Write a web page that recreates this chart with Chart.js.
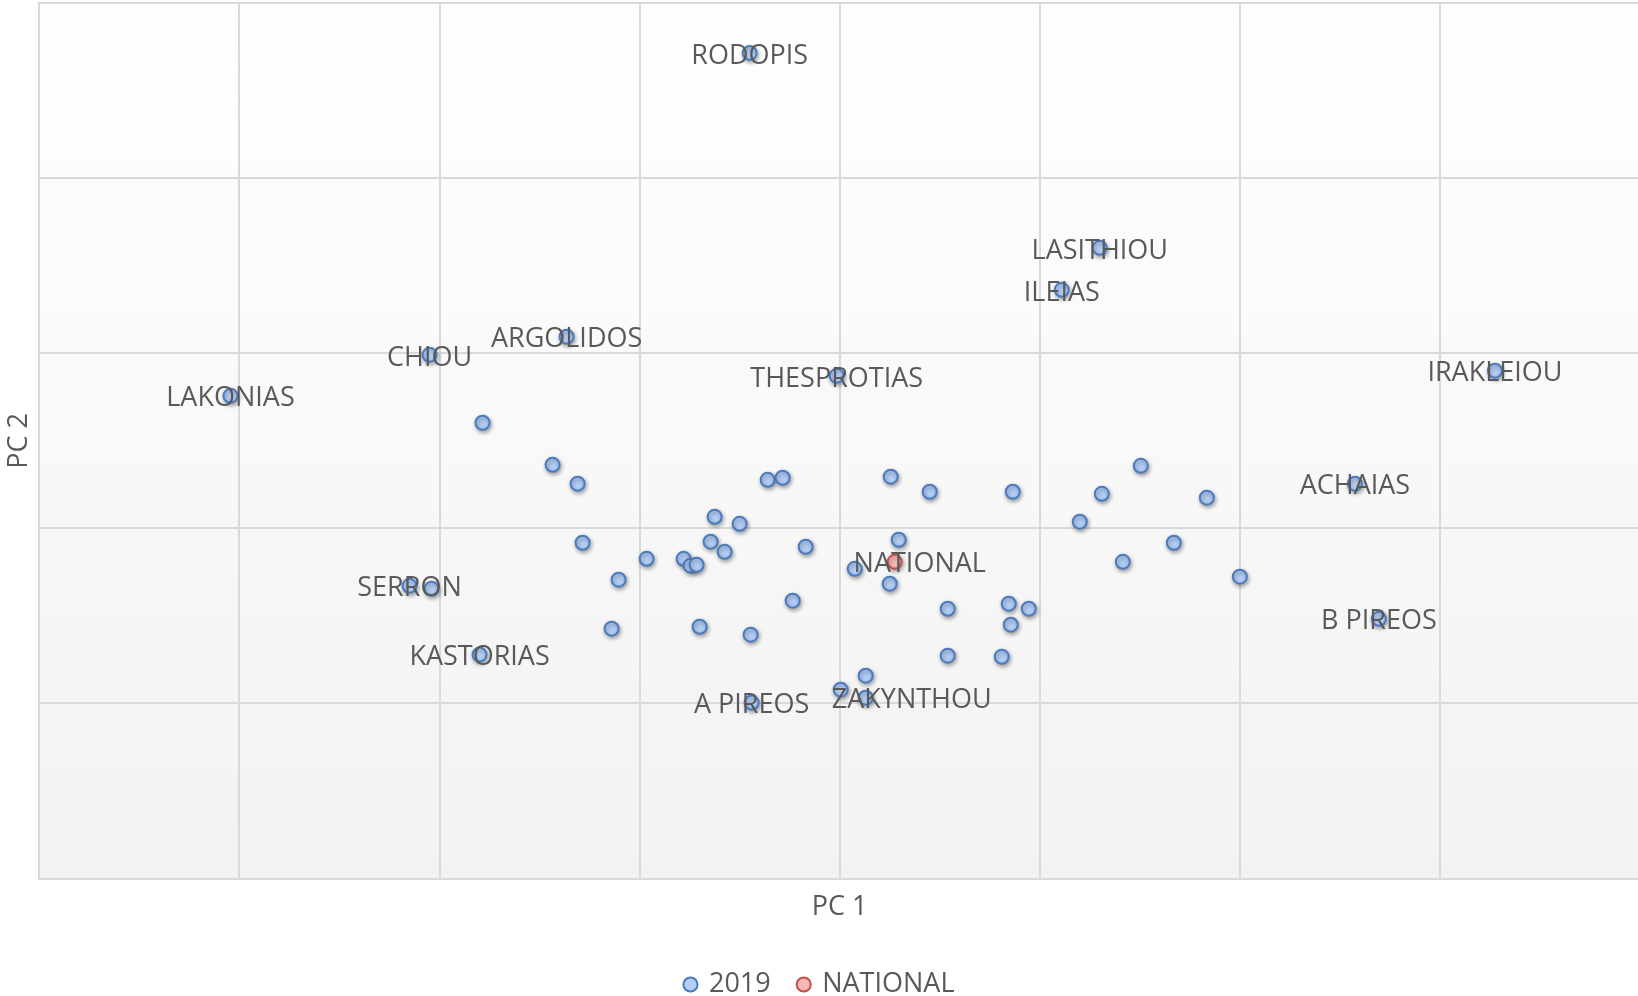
<!DOCTYPE html>
<html>
<head>
<meta charset="utf-8">
<script src="https://cdn.jsdelivr.net/npm/chart.js@4.4.1/dist/chart.umd.min.js"></script>
<style>
  html, body { margin: 0; padding: 0; overflow: hidden; background: #fff; }
</style>
</head>
<body>
<canvas id="pcaChart" width="1642" height="1008"></canvas>
<script>
// Prefecture scores on the first two principal components (2019)
// empty name = point without a label in the original chart
const regionNames = [
  'RODOPIS', 'LASITHIOU', 'ILEIAS', 'ARGOLIDOS', 'CHIOU', 'LAKONIAS', 'THESPROTIAS',
  'IRAKLEIOU', 'ACHAIAS', 'SERRON', 'B PIREOS', 'KASTORIAS', 'A PIREOS', 'ZAKYNTHOU',
  '', '', '', '', '', '', '', '', '', '', '', '', '', '', '', '', '', '', '', '', '',
  '', '', '', '', '', '', '', '', '', '', '', '', '', '', '', '', '', '', '', '', ''
];
const pc1Values = [
  -0.45, 1.30, 1.11, -1.365, -2.05, -3.045, -0.015,
  3.275, 2.575, -2.15, 2.695, -1.80, -0.44, 0.13,
  -1.785, -1.435, -1.31, -0.36, -0.285, -0.625, -0.50, -1.285, -0.965, -0.78, -0.745,
  -0.715, -0.645, -0.575, -1.105, -1.14, -0.70, -0.445, -0.235, -0.17, -2.04,
  0.255, 0.45, 0.865, 1.505, 1.31, 1.835, 1.20, 0.295, 0.075, 0.25, 1.67, 1.415,
  2.00, 0.54, 0.845, 0.945, 0.855, 0.54, 0.81, 0.13, 0.005
];
const pc2Values = [
  1.715, 0.602, 0.362, 0.094, -0.009, -0.243, -0.129,
  -0.100, -0.745, -1.328, -1.516, -1.721, -1.995, -1.967,
  -0.397, -0.637, -0.745, -0.723, -0.711, -0.934, -0.974, -1.082, -1.174, -1.174, -1.213,
  -1.208, -1.076, -1.134, -1.293, -1.573, -1.562, -1.607, -1.413, -1.105, -1.345,
  -0.705, -0.791, -0.791, -0.643, -0.803, -0.825, -0.962, -1.065, -1.231, -1.316, -1.082, -1.191,
  -1.276, -1.459, -1.430, -1.459, -1.550, -1.727, -1.733, -1.841, -1.921
];
const nationalNames = ['NATIONAL'];
const nationalPc1 = [0.275];
const nationalPc2 = [-1.191];

const xTicks = [-4, -3, -2, -1, 0, 1, 2, 3, 4];
const yTicks = [-3, -2, -1, 0, 1, 2];

const textColor = '#595959';
const gridColor = '#d9d9d9';
const mainFont = { family: "'Open Sans', sans-serif", size: 27 };

// a couple of labels sit off to the right of their point in the original
const labelShift = { NATIONAL: 25, ZAKYNTHOU: 46 };

const toPoints = (xs, ys) => xs.map((x, i) => ({ x: x, y: ys[i] }));

const pcaPlugin = {
  id: 'pcaPlugin',
  beforeDraw(chart) {
    const { ctx, chartArea: a } = chart;
    const g = ctx.createLinearGradient(0, a.top, 0, a.bottom);
    g.addColorStop(0, '#ffffff');
    g.addColorStop(1, '#f2f2f2');
    ctx.save();
    ctx.fillStyle = g;
    ctx.fillRect(a.left, a.top, a.right - a.left, a.bottom - a.top);
    ctx.restore();
  },
  beforeDatasetsDraw(chart) {
    const ctx = chart.ctx;
    ctx.save();
    ctx.shadowColor = 'rgba(0, 0, 0, 0.35)';
    ctx.shadowBlur = 4;
    ctx.shadowOffsetX = 1;
    ctx.shadowOffsetY = 2;
  },
  afterDatasetsDraw(chart) {
    const ctx = chart.ctx;
    ctx.restore();
    ctx.save();
    ctx.font = `${mainFont.size}px ${mainFont.family}`;
    ctx.fillStyle = textColor;
    ctx.textAlign = 'center';
    ctx.textBaseline = 'middle';
    chart.data.datasets.forEach((ds, di) => {
      const meta = chart.getDatasetMeta(di);
      meta.data.forEach((pt, i) => {
        const name = ds.names[i];
        if (!name) return;
        ctx.fillText(name, pt.x + (labelShift[name] || 0), pt.y + 3);
      });
    });
    ctx.restore();
  }
};

const axisBase = (ticksList, titleText, titlePad) => ({
  type: 'linear',
  min: ticksList[0],
  max: ticksList[ticksList.length - 1],
  afterBuildTicks: axis => { axis.ticks = ticksList.map(v => ({ value: v })); },
  ticks: { display: false },
  grid: { color: gridColor, lineWidth: 2, drawTicks: false },
  border: { color: gridColor, width: 2 },
  title: { display: true, text: titleText, color: textColor, font: mainFont, padding: titlePad }
});

new Chart(document.getElementById('pcaChart'), {
  type: 'scatter',
  data: {
    datasets: [
      {
        label: '2019',
        names: regionNames,
        data: toPoints(pc1Values, pc2Values),
        backgroundColor: '#b3cdf5',
        borderColor: '#4a7bbf',
        borderWidth: 2,
        pointRadius: 7
      },
      {
        label: 'NATIONAL',
        names: nationalNames,
        data: toPoints(nationalPc1, nationalPc2),
        backgroundColor: '#f6b8b6',
        borderColor: '#c0504d',
        borderWidth: 2,
        pointRadius: 7
      }
    ]
  },
  options: {
    responsive: false,
    animation: false,
    layout: { autoPadding: false, padding: { top: 3, right: 2, left: 0, bottom: 0 } },
    scales: {
      x: axisBase(xTicks, 'PC 1', { top: 13, bottom: 19 }),
      y: axisBase(yTicks, 'PC 2', { top: 3, bottom: 4 })
    },
    plugins: {
      legend: {
        position: 'bottom',
        labels: {
          usePointStyle: true,
          pointStyle: 'circle',
          boxWidth: 10,
          boxHeight: 10,
          padding: 28,
          color: textColor,
          font: mainFont
        }
      },
      tooltip: { enabled: false }
    }
  },
  plugins: [pcaPlugin]
});
</script>
</body>
</html>
